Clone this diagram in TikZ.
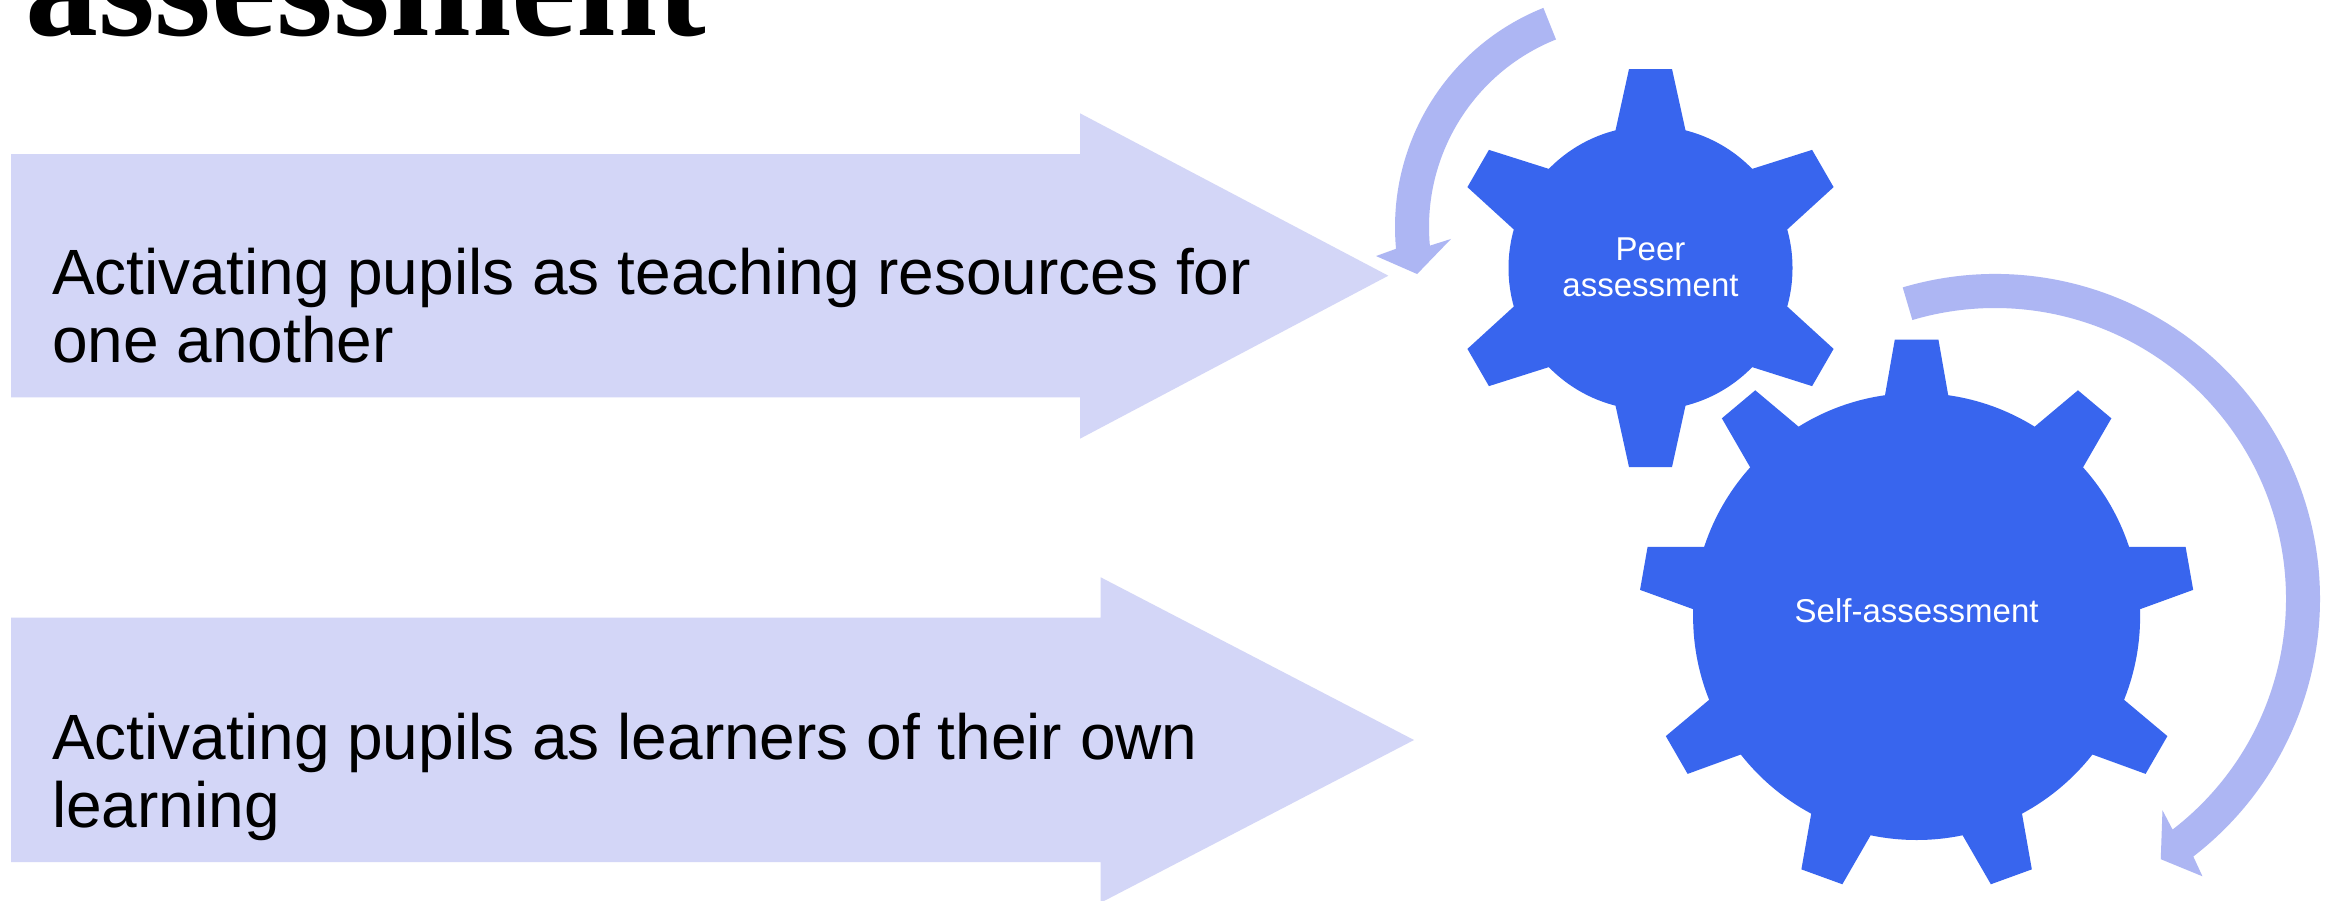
\documentclass[tikz,border=0pt]{standalone}
\usepackage{fontspec}
\setmainfont{Liberation Sans}
\newfontfamily\titlefont{Liberation Serif}
\definecolor{arrowfill}{RGB}{211,214,247}
\definecolor{curvefill}{RGB}{173,182,243}
\definecolor{gearblue}{RGB}{56,101,238}
\tikzset{
  blockarrow/.style={fill=arrowfill, draw=none},
  curvearrow/.style={fill=curvefill, draw=none},
  gearfill/.style={fill=gearblue, draw=none},
  gearbody/.style={circle, fill=gearblue, draw=none, inner sep=0pt},
  bodytext/.style={inner sep=0pt, anchor=base west, font=\fontsize{64}{68}\selectfont, text=black},
  geartext/.style={inner sep=0pt, anchor=base, font=\fontsize{33}{36}\selectfont, text=white},
}
\begin{document}
\begin{tikzpicture}[x=1pt,y=1pt]
\useasboundingbox (0,0) rectangle (2335,-900);
\fill[white] (0,0) rectangle (2335,-900);

% title (cut off at the top)
\node[anchor=base west, inner sep=0pt, font=\titlefont\bfseries\fontsize{146}{146}\selectfont] (title) at (25,-35.7) {assessment};

% block arrows
\fill[blockarrow] (11,-154) -- (1080,-154) -- (1080,-113.3) -- (1388.3,-275.7) -- (1080,-438.7) -- (1080,-397.3) -- (11,-397.3) -- cycle;
\fill[blockarrow] (11,-617.7) -- (1100.7,-617.7) -- (1100.7,-577.3) -- (1414,-740) -- (1100.7,-902.7) -- (1100.7,-862) -- (11,-862) -- cycle;

\node[bodytext] (a1l1) at (52,-294.7) {Activating pupils as teaching resources for};
\node[bodytext] (a1l2) at (52,-362.7) {one another};
\node[bodytext] (a2l1) at (52,-759) {Activating pupils as learners of their own};
\node[bodytext] (a2l2) at (52,-827) {learning};

% curved arrows
\coordinate (c1) at (1631,-227);
\coordinate (c2) at (1995,-599);
\fill[curvearrow] ([shift={(c1)}]111.8:236pt) arc[start angle=111.8, end angle=185.3, radius=236pt]
  -- ([shift={(c1)}]186.5:256.6pt) -- ([shift={(c1)}]192.4:219pt) -- ([shift={(c1)}]183.8:180.4pt)
  -- ([shift={(c1)}]185.3:202pt) arc[start angle=185.3, end angle=111.8, radius=202pt] -- cycle;
\fill[curvearrow] ([shift={(c2)}]106.5:325pt) arc[start angle=106.5, end angle=-52.4, radius=325pt]
  -- ([shift={(c2)}]-53.2:346.3pt) -- ([shift={(c2)}]-57.5:308.5pt) -- ([shift={(c2)}]-51.6:269.6pt)
  -- ([shift={(c2)}]-52.4:291pt) arc[start angle=-52.4, end angle=106.5, radius=291pt] -- cycle;

% peer gear
\node[gearbody, minimum size=284pt] (peer) at (1650.5,-268) {};
\foreach \a in {30,90,150,210,270,330}{
  \fill[gearfill, shift={(peer.center)}, rotate=\a] (122,-35) -- (137.6,-35) -- (199,-21.5) -- (199,21.5) -- (137.6,35) -- (122,35) -- cycle;
}
\node[geartext] (peerl1) at (1650.5,-260) {Peer};
\node[geartext] (peerl2) at (1650.5,-296) {assessment};

% self gear
\node[gearbody, minimum size=447pt] (self) at (1916.6,-616.5) {};
\foreach \a in {10,50,90,130,170,210,250,290,330}{
  \fill[gearfill, shift={(self.center)}, rotate=\a] (205,-31.6) -- (221.3,-31.6) -- (277,-21.8) -- (277,21.8) -- (221.3,31.6) -- (205,31.6) -- cycle;
}
\node[geartext] (selfl) at (1916.6,-622.4) {Self-assessment};
\end{tikzpicture}
\end{document}
